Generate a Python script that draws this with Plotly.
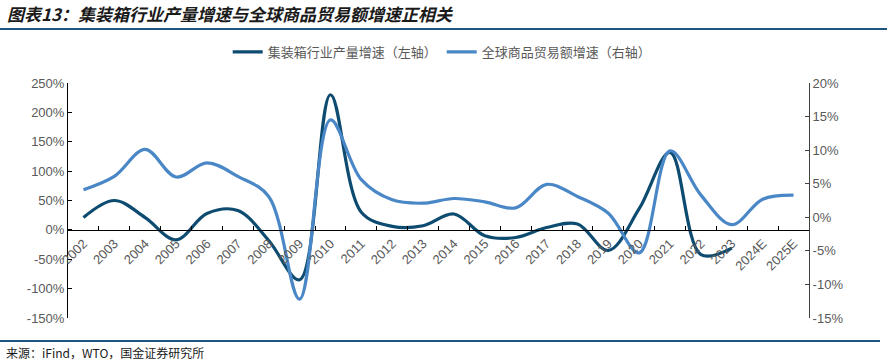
import plotly.graph_objects as go

years = ["2002", "2003", "2004", "2005", "2006", "2007", "2008", "2009", "2010", "2011",
         "2012", "2013", "2014", "2015", "2016", "2017", "2018", "2019", "2020", "2021",
         "2022", "2023", "2024E", "2025E"]
container_growth = [21, 50, 21, -17, 28, 33, -18, -85, 230, 30,
                    6, 7, 27, -10, -13, 4, 10, -35, 36, 132,
                    -42, -31, None, None]
trade_growth = [4.1, 6.1, 10.1, 6.0, 8.1, 6.1, 3.1, -12.2, 14.5, 5.6,
                2.6, 2.1, 2.8, 2.3, 1.4, 4.9, 3.1, 0.6, -5.3, 9.9,
                3.3, -1.1, 2.7, 3.3]

left_ticks = [-150, -100, -50, 0, 50, 100, 150, 200, 250]
right_ticks = [-15, -10, -5, 0, 5, 10, 15, 20]

DARK = "#0d4b70"
LIGHT = "#4a87c6"
GRAY = "#595959"
FONT = "Noto Sans CJK SC"
TICKFONT = "Liberation Sans"

fig = go.Figure()
fig.add_trace(go.Scatter(x=years, y=container_growth, name="集装箱行业产量增速（左轴）",
                         mode="lines", line=dict(color=DARK, width=3.2, shape="spline", smoothing=1.0),
                         connectgaps=False, yaxis="y"))
fig.add_trace(go.Scatter(x=years, y=trade_growth, name="全球商品贸易额增速（右轴）",
                         mode="lines", line=dict(color=LIGHT, width=3.2, shape="spline", smoothing=1.0),
                         yaxis="y2"))

lmin, lmax = left_ticks[0], left_ticks[-1]
zero_pos = (0 - lmin) / (lmax - lmin)

PW, PH = 741, 235
fig.update_layout(
    width=887, height=363,
    margin=dict(l=68, r=78, t=83, b=45, autoexpand=False),
    paper_bgcolor="white", plot_bgcolor="white",
    font=dict(family=FONT, color=GRAY, size=12),
    showlegend=True,
    legend=dict(orientation="h", x=0.505, xanchor="center", y=1 + (83-52)/PH, yanchor="middle",
                font=dict(size=13, color=GRAY), itemwidth=30, tracegroupgap=0),
    xaxis=dict(type="category", anchor="free", position=zero_pos,
               showline=True, linecolor="#000000", linewidth=1,
               ticks="inside", ticklen=4, tickcolor="#000000", tickson="boundaries",
               tickangle=-45, showgrid=False, zeroline=False,
               tickfont=dict(size=13, color=GRAY, family=TICKFONT), range=[-0.5, 23.5]),
    yaxis=dict(range=[lmin, lmax], tickvals=left_ticks,
               ticktext=[f"{v}%" for v in left_ticks],
               showline=True, linecolor="#000000", linewidth=1,
               ticks="inside", ticklen=4, tickcolor="#000000",
               showgrid=False, zeroline=False, tickfont=dict(size=13, color=GRAY, family=TICKFONT)),
    yaxis2=dict(range=[right_ticks[0], right_ticks[-1]], tickvals=right_ticks,
                ticktext=[f"{v}%" for v in right_ticks],
                overlaying="y", side="right",
                showline=True, linecolor="#404040", linewidth=1,
                ticks="inside", ticklen=4, tickcolor="#404040",
                showgrid=False, zeroline=False, tickfont=dict(size=13, color=GRAY, family=TICKFONT)),
    shapes=[
        dict(type="line", xref="paper", yref="paper", x0=-68/PW, x1=(887-68)/PW,
             y0=1 + (83-29)/PH, y1=1 + (83-29)/PH, line=dict(color="#1b5580", width=2)),
        dict(type="line", xref="paper", yref="paper", x0=-68/PW, x1=(880-68)/PW,
             y0=-(341-318)/PH, y1=-(341-318)/PH, line=dict(color="#1b5580", width=2)),
    ],
    annotations=[
        dict(text="<b><i>图表13：集装箱行业产量增速与全球商品贸易额增速正相关</i></b>",
             xref="paper", yref="paper", x=-63/PW, y=1 + (83-14)/PH,
             xanchor="left", yanchor="middle", showarrow=False,
             font=dict(size=17, color="#1a1a1a", family=FONT)),
        dict(text="来源：iFind，WTO，国金证券研究所",
             xref="paper", yref="paper", x=-64/PW, y=-(352-318)/PH,
             xanchor="left", yanchor="middle", showarrow=False,
             font=dict(size=12, color="#1a1a1a", family=FONT)),
    ],
)

fig.write_html("out.html", config={"displayModeBar": False},
               post_script="document.body.style.margin='0';document.body.style.overflow='hidden';")
